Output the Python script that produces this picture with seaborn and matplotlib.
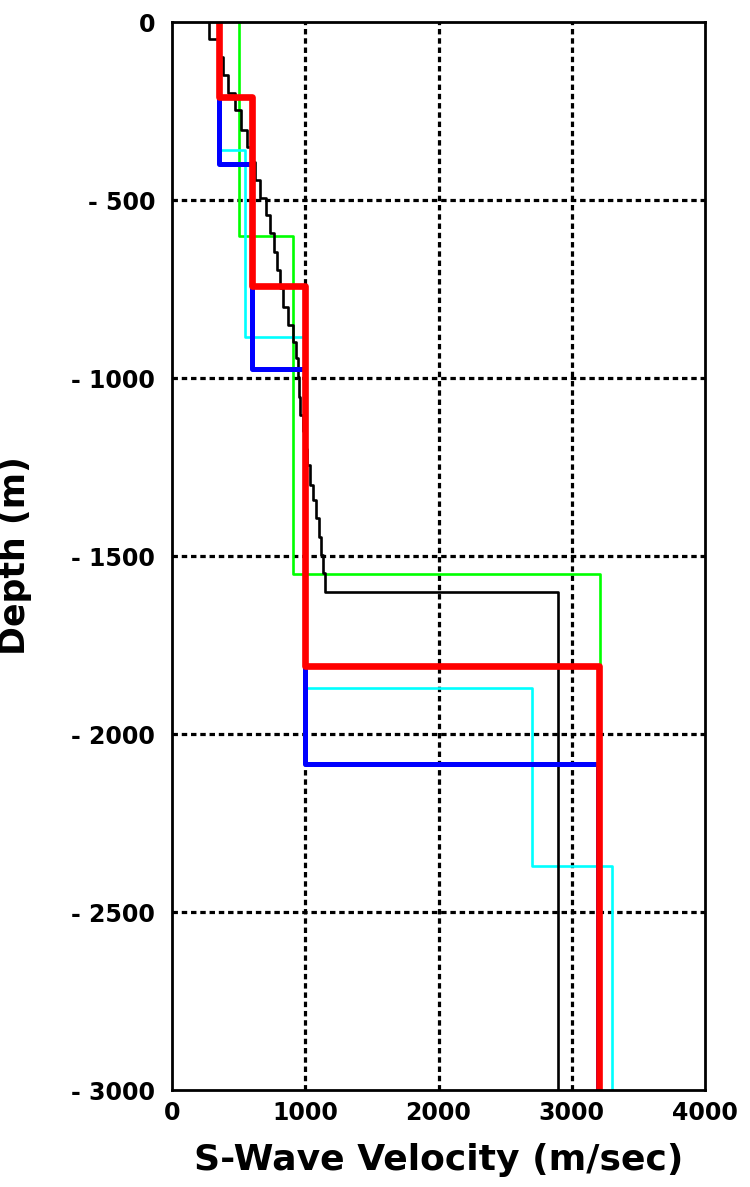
import matplotlib
matplotlib.use("Agg")
import matplotlib.pyplot as plt
import seaborn as sns
import pandas as pd

# ---------------- data (layer tops/bottoms in m, velocities in m/s) ----------------
black_bounds = [0, -48, -97, -149, -200, -247, -303, -350, -392, -444, -495, -542,
                -594, -645, -697, -748, -800, -851, -898, -945, -996, -1052, -1104,
                -1150, -1200, -1244, -1300, -1343, -1393, -1446, -1497, -1548, -1600, -3000]
black_vel = [275, 345, 385, 420, 470, 520, 561, 592, 626, 661, 706, 736,
             765, 790, 811, 836, 871, 906, 929, 946, 954, 964,
             985, 1000, 1015, 1036, 1058, 1077, 1102, 1120, 1134, 1145, 2895]

green_bounds = [0, -600, -1550, -3000]
green_vel = [500, 905, 3210]

cyan_bounds = [0, -360, -884, -1870, -2370, -3000]
cyan_vel = [350, 550, 1000, 2700, 3305]

blue_bounds = [0, -400, -976, -2083, -3000]
blue_vel = [350, 600, 1000, 3200]

red_bounds = [0, -212, -742, -1809, -3000]
red_vel = [350, 600, 1000, 3205]

xticks = [0, 1000, 2000, 3000, 4000]
xtick_labels = ["0", "1000", "2000", "3000", "4000"]
yticks = [0, -500, -1000, -1500, -2000, -2500, -3000]
ytick_labels = ["0", "- 500", "- 1000", "- 1500", "- 2000", "- 2500", "- 3000"]


def profile(bounds, vel, name):
    xs, ys = [], []
    for i, v in enumerate(vel):
        xs += [v, v]
        ys += [bounds[i], bounds[i + 1]]
    return pd.DataFrame({"velocity": xs, "depth": ys, "model": name,
                         "order": range(len(xs))})


sns.set_theme(style="white")
plt.rcParams["font.family"] = ["DejaVu Sans"]
plt.rcParams["text.color"] = "black"
plt.rcParams["axes.labelcolor"] = "black"
plt.rcParams["xtick.color"] = "black"
plt.rcParams["ytick.color"] = "black"

fig = plt.figure(figsize=(7.5, 11.87), dpi=100)
ax = fig.add_axes([172 / 750, 1 - 1090 / 1187, 533 / 750, 1068 / 1187])

grid_kw = dict(color="black", lw=2.3, dashes=(1.7, 1.2), zorder=1)
for gx in xticks[1:-1]:
    ax.axvline(gx, **grid_kw)
for gy in yticks[1:-1]:
    ax.axhline(gy, **grid_kw)

styles = [
    (green_bounds, green_vel, "green", "#00ff00", 1.9, 2),
    (cyan_bounds, cyan_vel, "cyan", "#00ffff", 1.9, 3),
    (black_bounds, black_vel, "black", "#000000", 1.9, 4),
    (blue_bounds, blue_vel, "blue", "#0000ff", 3.6, 5),
    (red_bounds, red_vel, "red", "#ff0000", 4.8, 6),
]
for b, v, name, col, lw, z in styles:
    df = profile(b, v, name)
    sns.lineplot(data=df, x="velocity", y="depth", sort=False, estimator=None,
                 color=col, lw=lw, ax=ax, zorder=z, legend=False)

ax.set_xlim(0, 4000)
ax.set_ylim(-3000, 0)
ax.set_xticks(xticks)
ax.set_xticklabels(xtick_labels)
ax.set_yticks(yticks)
ax.set_yticklabels(ytick_labels)
ax.tick_params(length=0, labelsize=17, colors="black")
ax.tick_params(axis="y", pad=12)
ax.tick_params(axis="x", pad=8)
for lab in ax.get_xticklabels() + ax.get_yticklabels():
    lab.set_fontweight("bold")
    lab.set_color("black")
for sp in ax.spines.values():
    sp.set_color("black")
    sp.set_linewidth(2)
    sp.set_zorder(10)

ax.set_xlabel("S-Wave Velocity (m/sec)", fontsize=26, fontweight="bold", color="black")
ax.set_ylabel("Depth (m)", fontsize=25, fontweight="bold", color="black")
ax.xaxis.set_label_coords(0.5, -0.05)
ax.yaxis.set_label_coords(-0.262, 0.5)

fig.savefig("out.png", dpi=100)
